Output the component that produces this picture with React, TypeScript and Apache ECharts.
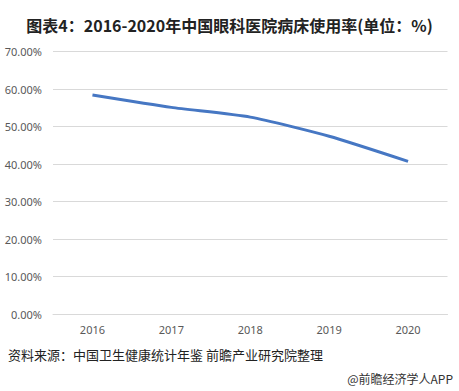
import React, { useEffect, useRef } from "react";
import * as echarts from "echarts";

const categories = ["2016", "2017", "2018", "2019", "2020"];
const occupancy = [58.4, 55.1, 52.5, 47.4, 40.7];
const yMax = 70;
const yInterval = 10;

const titleText = "图表4：2016-2020年中国眼科医院病床使用率(单位：%)";
const sourceText = "资料来源：中国卫生健康统计年鉴 前瞻产业研究院整理";
const brandText = "@前瞻经济学人APP";

export default function App() {
  const ref = useRef<HTMLDivElement>(null);
  useEffect(() => {
    if (!ref.current) return;
    const chart = echarts.init(ref.current, null, { renderer: "svg" });
    chart.setOption({
      animation: false,
      backgroundColor: "#ffffff",
      title: {
        text: titleText,
        left: "center",
        top: 12,
        textStyle: {
          fontSize: 16,
          fontWeight: "bold",
          color: "#222222",
          fontFamily: "Noto Sans CJK SC, sans-serif",
        },
      },
      grid: { left: 53, right: 11.5, top: 51.5, bottom: 77 },
      xAxis: {
        type: "category",
        data: categories,
        axisLine: { lineStyle: { color: "#d9d9d9" } },
        axisTick: { show: false },
        axisLabel: {
          color: "#595959",
          fontSize: 11,
          margin: 10,
          fontFamily: "Noto Sans, sans-serif",
        },
      },
      yAxis: {
        type: "value",
        min: 0,
        max: yMax,
        interval: yInterval,
        axisLine: { show: false },
        axisTick: { show: false },
        splitLine: { lineStyle: { color: "#d9d9d9" } },
        axisLabel: {
          color: "#595959",
          fontSize: 11,
          margin: 11,
          fontFamily: "Noto Sans, sans-serif",
          formatter: (v: number) => v.toFixed(2) + "%",
        },
      },
      series: [
        {
          type: "line",
          data: occupancy,
          smooth: 0.2,
          symbol: "none",
          lineStyle: { color: "#4677c3", width: 3 },
        },
      ],
      graphic: [
        {
          type: "text",
          left: 8,
          top: 348,
          style: {
            text: sourceText,
            fontSize: 13,
            fill: "#222222",
            fontFamily: "Noto Sans CJK SC, sans-serif",
          },
        },
        {
          type: "text",
          right: 6,
          top: 372,
          style: {
            text: brandText,
            fontSize: 12,
            fill: "#333333",
            fontFamily: "Noto Sans CJK SC, sans-serif",
          },
        },
      ],
    });
    return () => chart.dispose();
  }, []);
  return (
    <div
      ref={ref}
      style={{ position: "fixed", left: 0, top: 0, width: 459, height: 391 }}
    />
  );
}
